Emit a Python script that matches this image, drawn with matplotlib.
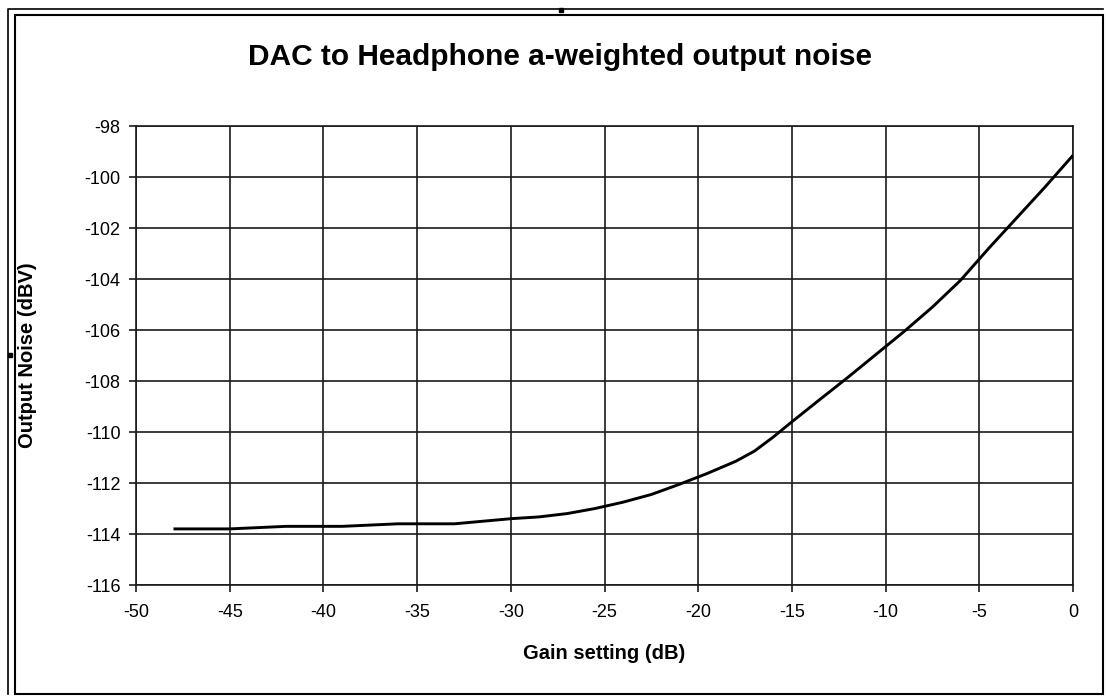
import matplotlib
matplotlib.use("Agg")
import matplotlib.pyplot as plt
from matplotlib.patches import Rectangle
from matplotlib.lines import Line2D

# gain setting (dB) vs a-weighted output noise (dBV)
gain = [-48, -45, -42, -39, -36, -33, -31.5, -30, -28.5, -27, -25.5, -24,
        -22.5, -21, -19.5, -18, -17, -16, -15, -13.5, -12, -10.5, -9,
        -7.5, -6, -4.5, -3, -1.5, 0]
noise = [-113.8, -113.8, -113.7, -113.7, -113.6, -113.6, -113.5, -113.4,
         -113.33, -113.2, -113.0, -112.75, -112.45, -112.05, -111.62, -111.15,
         -110.75, -110.2, -109.6, -108.72, -107.85, -106.95, -106.05,
         -105.1, -104.05, -102.8, -101.6, -100.4, -99.15]

x_ticks = list(range(-50, 1, 5))
y_ticks = list(range(-116, -97, 2))

W, H = 1106, 697
plt.rcParams['font.family'] = ['Liberation Sans', 'DejaVu Sans']
plt.rcParams['axes.unicode_minus'] = False

fig = plt.figure(figsize=(W / 100, H / 100), dpi=100)
ax = fig.add_axes([136 / W, 1 - 585 / H, (1073 - 136) / W, (585 - 126) / H])

ax.plot(gain, noise, color='black', lw=2.1, solid_capstyle='butt', zorder=3)

ax.set_xlim(-50, 0)
ax.set_ylim(-116, -98)
ax.set_xticks(x_ticks)
ax.set_yticks(y_ticks)
ax.grid(True, color='#1a1a1a', lw=1.2)
for s in ax.spines.values():
    s.set_color('#1a1a1a')
    s.set_linewidth(1.2)
ax.tick_params(direction='out', length=5, width=1.2, colors='#1a1a1a',
               labelcolor='black', labelsize=13)
ax.tick_params(axis='x', pad=9)
ax.tick_params(axis='y', pad=6)

ax.set_xlabel('Gain setting (dB)', fontsize=14.5, fontweight='bold', labelpad=16)
fig.text(28 / W, 1 - 355 / H, 'Output Noise (dBV)', fontsize=14.5,
         fontweight='bold', rotation=90, ha='center', va='center')
fig.text(560 / W, 1 - 57 / H, 'DAC to Headphone a-weighted output noise',
         fontsize=21.5, fontweight='bold', ha='center', va='center')

# frame around the chart
def px(x, y):
    return x / W, 1 - y / H

fig.add_artist(Rectangle(px(15, 694), (1103 - 15) / W, (694 - 15) / H,
                         transform=fig.transFigure, fill=False,
                         edgecolor='black', lw=1.5))
fig.add_artist(Line2D([8 / W, 8 / W, 1103 / W], [1 - 694 / H, 1 - 9 / H, 1 - 9 / H],
                      transform=fig.transFigure, color='black', lw=1.2))
for hx, hy in [(561, 10), (10, 355)]:
    fig.add_artist(Rectangle(px(hx - 2, hy + 2), 4 / W, 4 / H,
                             transform=fig.transFigure, color='black'))

fig.savefig('out.png', dpi=100)
